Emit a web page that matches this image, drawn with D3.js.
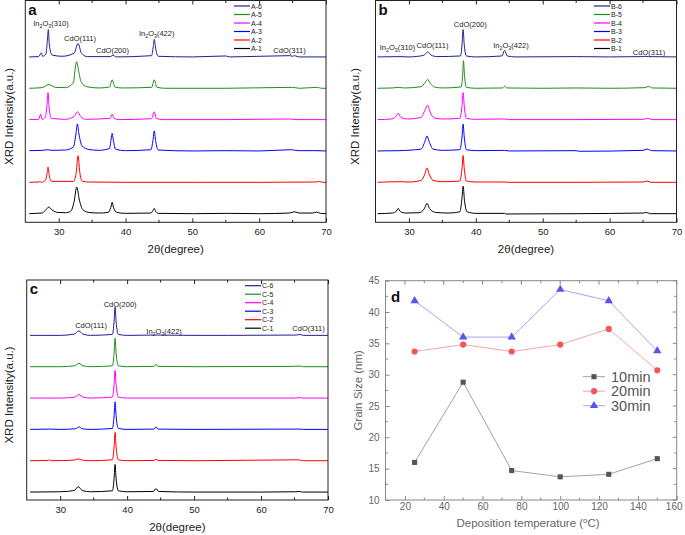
<!DOCTYPE html>
<html><head><meta charset="utf-8">
<script src="https://cdn.jsdelivr.net/npm/d3@7"></script>
<style>body{margin:0;background:#fff}svg{display:block}</style>
</head><body>
<script>
// ---------------- DATA ----------------
const thetaTicks = [30, 40, 50, 60, 70];
const seriesColors = ["#000000", "#ff0000", "#0000ff", "#ff00ff", "#1e8c1e", "#1f1f8f"];

const namesA = ["A-1", "A-2", "A-3", "A-4", "A-5", "A-6"];
const A1 = [[25.6,2],[26.5,3],[27.5,4],[28.0,12],[28.5,23],[29.0,14],[29.8,6],[31.0,5],[31.8,10],[32.3,40],[32.7,87],[33.1,45],[33.6,15],[34.5,6],[36.0,4],[37.4,6],[37.8,22],[38.0,38],[38.2,22],[38.7,6],[40,3],[43.8,4],[44.1,12],[44.3,19],[44.5,10],[44.9,3],[50,2],[55,3],[60,2],[64.5,4],[65.3,8],[66.0,4],[68.0,4],[68.6,7],[69.2,3],[70,2]];
const A2 = [[25.6,2],[27.0,3],[27.2,5],[27.4,2],[28.0,8],[28.25,30],[28.4,51],[28.55,28],[28.9,5],[32.2,5],[32.6,30],[32.9,87],[33.15,35],[33.5,6],[34.5,3],[40,2],[50,2],[60,2],[68.5,3],[69,5],[69.5,2],[70,2]];
const A3 = [[25.6,3],[27.5,4],[28.3,6],[29.0,4],[31,5],[32.2,15],[32.6,60],[32.8,88],[33.0,60],[33.5,18],[34.5,7],[36,4],[37.6,10],[37.85,40],[38.0,58],[38.15,40],[38.5,8],[40,3],[43.8,6],[44.1,35],[44.3,66],[44.5,35],[44.9,5],[50,2],[55,3],[60,2],[64.8,6],[65.8,3],[68.5,3],[70,2]];
const A4 = [[25.6,2],[27,3],[27.3,19],[27.5,3],[28.0,10],[28.25,50],[28.4,88],[28.55,45],[28.9,6],[31,3],[32.3,12],[32.8,27],[33.3,12],[34,3],[37.7,6],[38.0,19],[38.3,6],[39,2],[43.9,5],[44.3,27],[44.6,6],[45.5,2],[55,2],[64.5,4],[65.5,2],[70,2]];
const A5 = [[25.6,2],[27.5,4],[28.5,14],[29.5,5],[31,4],[32.2,20],[32.5,70],[32.7,87],[32.95,60],[33.4,20],[34.2,7],[36,3],[37.6,6],[38.0,29],[38.4,6],[39.5,3],[43.9,5],[44.3,29],[44.7,5],[46,2],[55,2],[65,5],[66,2],[68.7,5],[69.3,2],[70,2]];
const A6 = [[25.6,2],[27,3],[27.4,15],[27.6,4],[28.1,12],[28.3,55],[28.45,89],[28.6,40],[29.0,8],[30.5,4],[32.3,14],[32.9,45],[33.4,14],[34.3,3],[37.7,3],[38.1,7],[38.6,2],[43.9,6],[44.15,35],[44.3,58],[44.5,30],[44.9,4],[50,2],[55,5],[55.6,2],[64.6,6],[65.0,4],[65.3,6],[66,2],[70,2]];

const namesB = ["B-1", "B-2", "B-3", "B-4", "B-5", "B-6"];
const B1 = [[25.3,2],[27.5,4],[28.2,12],[28.4,19],[28.7,9],[29.5,4],[31.5,5],[32.3,18],[32.7,35],[33.1,18],[34,6],[36,4],[37.6,8],[37.9,45],[38.1,90],[38.3,45],[38.7,8],[40,3],[44.3,3],[44.5,1],[55,2],[65,4],[65.5,6],[66.1,2],[70,2]];
const B2 = [[25.3,2],[28.5,4],[30,3],[31.8,8],[32.4,30],[32.7,48],[33.0,30],[33.6,8],[35,4],[37.6,6],[37.95,50],[38.1,88],[38.25,50],[38.6,6],[40,3],[44.3,3],[45,2],[55,2],[65,3],[65.6,6],[66.2,2],[70,2]];
const B3 = [[25.3,2],[28.5,3],[31.8,8],[32.4,33],[32.7,50],[33.0,33],[33.6,8],[35,4],[37.6,6],[37.95,50],[38.1,88],[38.25,50],[38.6,6],[40,3],[44.3,4],[45,2],[55,3],[55.5,1],[65,4],[65.6,8],[66.3,3],[70,2]];
const B4 = [[25.3,2],[27.3,4],[28.0,11],[28.4,22],[28.8,9],[29.8,4],[31.8,9],[32.4,32],[32.8,48],[33.1,30],[33.7,8],[35,4],[37.6,6],[37.95,50],[38.1,88],[38.25,50],[38.6,6],[40,3],[44.3,4],[45,2],[55,2],[65,3],[65.7,6],[66.3,2],[70,2]];
const B5 = [[25.3,2],[27.5,3],[28.4,5],[29.3,3],[31.8,7],[32.4,20],[32.8,30],[33.2,18],[33.8,6],[35,3],[37.8,6],[38.05,50],[38.15,90],[38.3,45],[38.6,5],[40,2],[44.0,3],[44.3,9],[44.6,3],[50,2],[55,3],[60,2],[65.3,4],[65.8,8],[66.4,3],[70,2]];
const B6 = [[25.3,2],[28.5,3],[30,2],[32.2,7],[32.8,18],[33.3,8],[34.2,3],[37.7,5],[37.95,45],[38.1,89],[38.25,45],[38.6,5],[40,2],[43.9,5],[44.3,23],[44.7,5],[46,2],[55,3],[60,2],[64.8,3],[65.3,4],[65.8,3],[70,2]];

const namesC = ["C-1", "C-2", "C-3", "C-4", "C-5", "C-6"];
const C1 = [[25.5,2],[30,3],[32.1,7],[32.7,19],[33.3,7],[34.5,3],[37.8,6],[38.05,45],[38.2,90],[38.35,45],[38.7,6],[40,3],[43.9,4],[44.3,13],[44.7,4],[50,2],[60,2],[65.2,3],[65.7,4],[66.2,2],[70,2]];
const C2 = [[25.5,2],[28.2,3],[28.4,5],[28.6,2],[32.1,4],[32.7,8],[33.3,4],[34.5,2],[37.8,5],[38.05,46],[38.2,92],[38.35,46],[38.7,5],[40,2],[44.0,3],[44.3,7],[44.6,3],[50,2],[65.6,5],[66.2,2],[70,2]];
const C3 = [[25.5,2],[28.5,3],[30,2],[32.3,4],[32.8,10],[33.3,4],[34.5,2],[37.8,5],[38.05,45],[38.2,90],[38.35,45],[38.7,5],[40,2],[44.0,3],[44.3,10],[44.6,3],[50,2],[65.8,3],[66.3,2],[70,2]];
const C4 = [[25.5,2],[30,2],[32.2,5],[32.8,13],[33.4,5],[34.5,2],[37.8,5],[38.05,45],[38.2,90],[38.35,45],[38.7,5],[40,2],[50,2],[65.2,2],[65.7,4],[66.2,2],[70,2]];
const C5 = [[25.5,2],[30,2],[32.2,5],[32.8,13],[33.4,5],[34.5,2],[37.8,5],[38.05,46],[38.2,93],[38.35,46],[38.7,5],[40,2],[44.0,3],[44.3,10],[44.6,3],[50,2],[64.8,3],[65.8,4],[66.3,2],[70,2]];
const C6 = [[25.5,2],[30,2],[32.1,6],[32.8,16],[33.4,6],[34.5,2],[37.8,5],[38.05,46],[38.2,92],[38.35,46],[38.7,5],[40,2],[44.3,3],[50,2],[55,2],[65.3,3],[65.8,5],[66.3,2],[70,2]];

// panel d
const temperatures = [25, 50, 75, 100, 125, 150];
const grain10 = [16.0, 28.8, 14.7, 13.7, 14.1, 16.6];
const grain20 = [33.7, 34.8, 33.7, 34.8, 37.3, 30.7];
const grain30 = [41.8, 36.0, 36.0, 43.6, 41.8, 33.8];
const dSeriesNames = ["10min", "20min", "30min"];
const tempTicks = [20, 40, 60, 80, 100, 120, 140, 160];
const grainTicks = [10, 15, 20, 25, 30, 35, 40, 45];

// ---------------- DRAWING ----------------
const FONT = "'Liberation Sans', Arial, Helvetica, sans-serif";
const svg = d3.select("body").append("svg").attr("width", 685).attr("height", 535)
  .style("font-family", FONT);

function richText(g, x, y, parts, size, anchor) {
  const t = g.append("text").attr("x", x).attr("y", y).attr("text-anchor", anchor || "middle")
    .attr("font-size", size).attr("fill", "#222");
  let shifted = false;
  parts.forEach(p => {
    const isSub = p[1];
    const ts = t.append("tspan").text(p[0]);
    if (isSub && !shifted) { ts.attr("dy", size * 0.3).attr("font-size", size * 0.7); shifted = true; }
    else if (isSub) { ts.attr("font-size", size * 0.7); }
    else if (shifted) { ts.attr("dy", -size * 0.3); shifted = false; }
  });
  return t;
}
const In2O3 = hkl => [["In", false], ["2", true], ["O", false], ["3", true], ["(" + hkl + ")", false]];
const CdO = hkl => [["CdO(" + hkl + ")", false]];

function xrdPanel(cfg) {
  const g = svg.append("g");
  const x = d3.scaleLinear().domain([25, 70]).range([cfg.x0, cfg.x1]);
  const vBot = -(cfg.yBot - cfg.base0) * 100 / cfg.step;
  const vTop = (cfg.base0 - cfg.yTop) * 100 / cfg.step;
  const y = d3.scaleLinear().domain([vBot, vTop]).range([cfg.yBot, cfg.yTop]);

  const line = d3.line().curve(d3.curveMonotoneX);
  cfg.series.forEach((s, i) => {
    line.x(d => x(d[0])).y(d => y(d[1] + i * 100));
    g.append("path").attr("d", line(s)).attr("fill", "none")
      .attr("stroke", seriesColors[i]).attr("stroke-width", 1).attr("stroke-linejoin", "round");
  });

  // frame
  g.append("rect").attr("x", cfg.x0).attr("y", cfg.yTop).attr("width", cfg.x1 - cfg.x0)
    .attr("height", cfg.yBot - cfg.yTop).attr("fill", "none").attr("stroke", "#222").attr("stroke-width", 1);

  // axes (ticks inward)
  const minor = d3.range(35, 70, 10);
  const bottom = d3.axisBottom(x).tickValues(thetaTicks).tickSizeInner(-4).tickSizeOuter(0).tickPadding(6);
  const ga = g.append("g").attr("transform", `translate(0,${cfg.yBot})`).call(bottom);
  ga.select(".domain").remove();
  ga.selectAll("text").attr("font-size", 9.5).attr("fill", "#222").attr("font-family", FONT);
  ga.selectAll("line").attr("stroke", "#222");
  g.append("g").selectAll("line").data(minor).join("line")
    .attr("x1", d => x(d)).attr("x2", d => x(d)).attr("y1", cfg.yBot).attr("y2", cfg.yBot - 2.5).attr("stroke", "#222");
  const top = d3.axisTop(x).tickValues(thetaTicks).tickSizeInner(-4).tickSizeOuter(0).tickFormat("");
  const gt = g.append("g").attr("transform", `translate(0,${cfg.yTop})`).call(top);
  gt.select(".domain").remove();
  gt.selectAll("line").attr("stroke", "#222");
  g.append("g").selectAll("line").data(minor).join("line")
    .attr("x1", d => x(d)).attr("x2", d => x(d)).attr("y1", cfg.yTop).attr("y2", cfg.yTop + 2.5).attr("stroke", "#222");

  // axis titles
  g.append("text").attr("x", (cfg.x0 + cfg.x1) / 2).attr("y", cfg.yBot + 31).attr("text-anchor", "middle")
    .attr("font-size", 11.5).attr("fill", "#222").text("2\u03B8(degree)");
  g.append("text").attr("transform", `translate(${cfg.ylabX},${(cfg.yTop + cfg.yBot) / 2 + 5}) rotate(-90)`)
    .attr("text-anchor", "middle").attr("font-size", 11.5).attr("fill", "#222").text("XRD Intensity(a.u.)");

  // panel letter
  g.append("text").attr("x", cfg.x0 + 3).attr("y", cfg.yTop + 14).attr("font-size", 15).attr("font-weight", "bold")
    .attr("fill", "#111").text(cfg.letter);

  // peak annotations
  cfg.labels.forEach(l => richText(g, x(l[1]), l[2], l[0], 7.5));

  // legend (top entry = last series)
  const lg = g.append("g");
  const order = d3.range(cfg.series.length).reverse();
  order.forEach((si, k) => {
    const yy = cfg.legY + k * 8.5;
    lg.append("line").attr("x1", cfg.legX).attr("x2", cfg.legX + 16).attr("y1", yy).attr("y2", yy)
      .attr("stroke", seriesColors[si]).attr("stroke-width", 1.2);
    lg.append("text").attr("x", cfg.legX + 17).attr("y", yy + 2.5).attr("font-size", 7).attr("fill", "#222")
      .text(cfg.names[si]);
  });
}

xrdPanel({
  x0: 25.3, x1: 326, yTop: 0.5, yBot: 222.3, base0: 214.3, step: 31.35, ylabX: 13, letter: "a",
  series: [A1, A2, A3, A4, A5, A6], names: namesA, legX: 234, legY: 6,
  labels: [[In2O3("310"), 28.85, 26], [CdO("111"), 33.19, 41], [CdO("200"), 38.05, 53],
           [In2O3("422"), 44.66, 36], [CdO("311"), 64.54, 53]]
});
xrdPanel({
  x0: 375.5, x1: 676.5, yTop: 0.5, yBot: 222.3, base0: 214.3, step: 31.35, ylabX: 359, letter: "b",
  series: [B1, B2, B3, B4, B5, B6], names: namesB, legX: 594, legY: 6,
  labels: [[In2O3("310"), 28.29, 49.5], [CdO("111"), 33.52, 48], [CdO("200"), 39.17, 27],
           [In2O3("422"), 45.26, 48], [CdO("311"), 65.89, 54.5]]
});
xrdPanel({
  x0: 26.7, x1: 328, yTop: 280, yBot: 500, base0: 492.7, step: 31.34, ylabX: 13, letter: "c",
  series: [C1, C2, C3, C4, C5, C6], names: namesC, legX: 245, legY: 285.7,
  labels: [[CdO("111"), 34.61, 328], [CdO("200"), 38.95, 306.5],
           [In2O3("422"), 45.52, 333.5], [CdO("311"), 67.09, 330.5]]
});

// ---------------- panel d ----------------
(function () {
  const g = svg.append("g");
  const x0 = 385.5, x1 = 676.7, yTop = 280.7, yBot = 500;
  const x = d3.scaleLinear().domain([10, 160]).range([x0, x1]);
  const y = d3.scaleLinear().domain([10, 45]).range([yBot, yTop]);
  const axC = "#888", txtC = "#666";

  g.append("rect").attr("x", x0).attr("y", yTop).attr("width", x1 - x0).attr("height", yBot - yTop)
    .attr("fill", "none").attr("stroke", axC).attr("stroke-width", 1);

  const xa = g.append("g").attr("transform", `translate(0,${yBot})`)
    .call(d3.axisBottom(x).tickValues(tempTicks).tickSizeInner(-4).tickSizeOuter(0).tickPadding(3));
  xa.select(".domain").remove();
  xa.selectAll("line").attr("stroke", axC);
  xa.selectAll("text").attr("font-size", 10).attr("fill", txtC).attr("font-family", FONT);
  xa.selectAll("text").filter(d => d === 160).attr("dx", -3);
  const ya = g.append("g").attr("transform", `translate(${x0},0)`)
    .call(d3.axisLeft(y).tickValues(grainTicks).tickSizeInner(-4).tickSizeOuter(0).tickPadding(6));
  ya.select(".domain").remove();
  ya.selectAll("line").attr("stroke", axC);
  ya.selectAll("text").attr("font-size", 10).attr("fill", txtC).attr("font-family", FONT);

  const minorX = d3.range(30, 160, 20).concat([10]);
  const minorY = d3.range(12.5, 45, 5);
  const tk = g.append("g").attr("stroke", axC);
  tk.selectAll(".mxb").data(minorX).join("line").attr("x1", d => x(d)).attr("x2", d => x(d)).attr("y1", yBot).attr("y2", yBot - 2.5);
  tk.selectAll(".mxt").data(minorX.concat(tempTicks)).join("line").attr("x1", d => x(d)).attr("x2", d => x(d))
    .attr("y1", yTop).attr("y2", d => yTop + (tempTicks.includes(d) ? 4 : 2.5));
  tk.selectAll(".myl").data(minorY).join("line").attr("x1", x0).attr("x2", x0 + 2.5).attr("y1", d => y(d)).attr("y2", d => y(d));
  tk.selectAll(".myr").data(minorY.concat(grainTicks)).join("line").attr("x1", x1)
    .attr("x2", d => x1 - (grainTicks.includes(d) ? 4 : 2.5)).attr("y1", d => y(d)).attr("y2", d => y(d));

  const sets = [
    { v: grain10, line: "#999", fill: "#555", sym: d3.symbolSquare, size: 26 },
    { v: grain20, line: "#f59a9a", fill: "#f55555", sym: d3.symbolCircle, size: 30 },
    { v: grain30, line: "#9a9af5", fill: "#5555f5", sym: d3.symbolTriangle, size: 30 }
  ];
  const line = d3.line().x((d, i) => x(temperatures[i])).y(d => y(d));
  sets.forEach(s => {
    g.append("path").attr("d", line(s.v)).attr("fill", "none").attr("stroke", s.line).attr("stroke-width", 0.9);
    g.append("g").selectAll("path").data(s.v).join("path")
      .attr("transform", (d, i) => `translate(${x(temperatures[i])},${y(d)})`)
      .attr("d", d3.symbol().type(s.sym).size(s.size)).attr("fill", s.fill);
  });

  // legend
  sets.forEach((s, k) => {
    const yy = 376.7 + k * 14.5;
    g.append("line").attr("x1", 583).attr("x2", 605).attr("y1", yy).attr("y2", yy).attr("stroke", s.line).attr("stroke-width", 0.9);
    g.append("path").attr("transform", `translate(594,${yy})`).attr("d", d3.symbol().type(s.sym).size(s.size)).attr("fill", s.fill);
    g.append("text").attr("x", 611).attr("y", yy + 5).attr("font-size", 14.5).attr("fill", "#555").text(dSeriesNames[k]);
  });

  // titles
  const xt = g.append("text").attr("x", (x0 + x1) / 2 - 3).attr("y", 527).attr("text-anchor", "middle")
    .attr("font-size", 11.5).attr("fill", txtC);
  xt.append("tspan").text("Deposition temperature (");
  xt.append("tspan").attr("dy", -4).attr("font-size", 8).text("o");
  xt.append("tspan").attr("dy", 4).text("C)");
  g.append("text").attr("transform", `translate(362,${(yTop + yBot) / 2}) rotate(-90)`).attr("text-anchor", "middle")
    .attr("font-size", 11.5).attr("fill", txtC).text("Grain Size (nm)");
  g.append("text").attr("x", 391).attr("y", 302).attr("font-size", 15).attr("font-weight", "bold").attr("fill", "#111").text("d");
})();
</script>
</body></html>
